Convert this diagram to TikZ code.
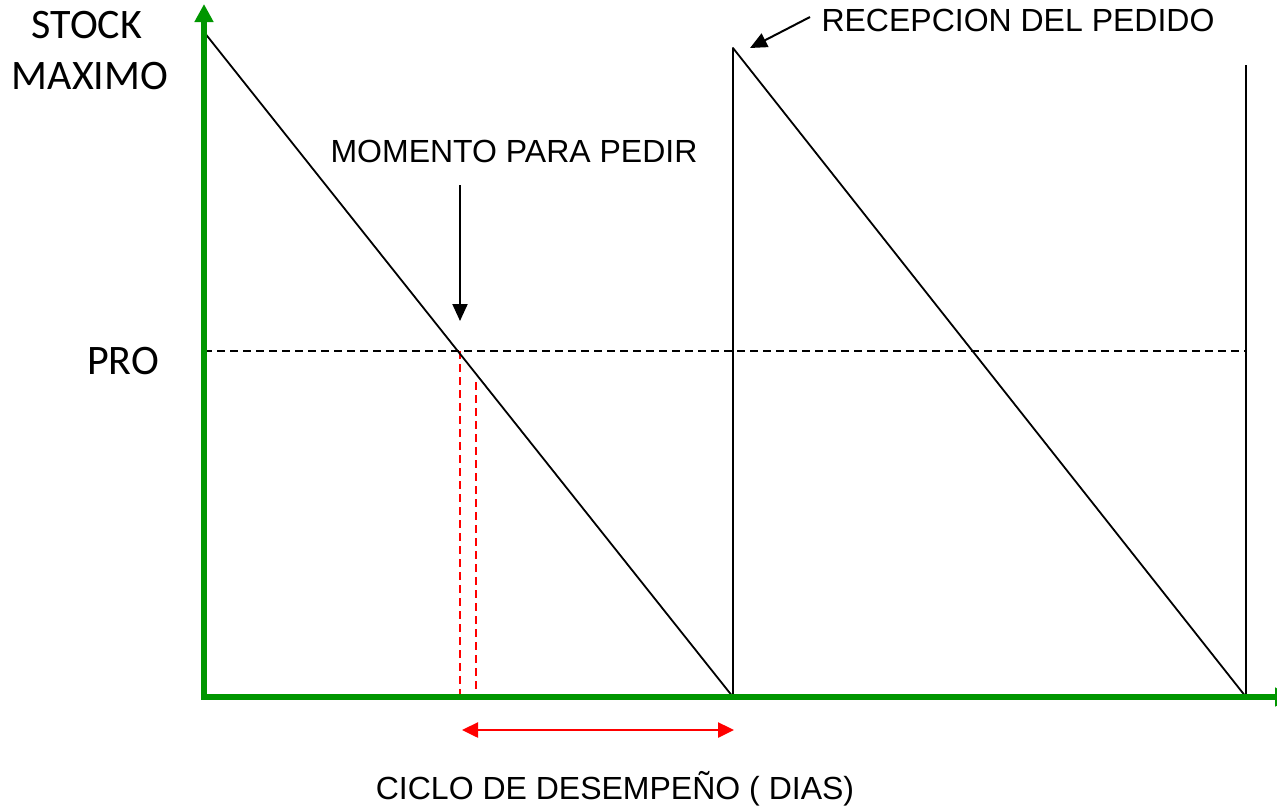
\documentclass[tikz,border=0pt]{standalone}
\usepackage{fontspec}
\setmainfont{Liberation Sans}
\newfontfamily\calib{Carlito}
\usetikzlibrary{arrows.meta}
\definecolor{axisgreen}{RGB}{0,150,0}
\begin{document}
\begin{tikzpicture}[x=1pt,y=-1pt,
  axis/.style={line width=6pt,draw=axisgreen,-{Triangle[length=18pt,width=18pt]}},
  stockline/.style={line width=1.8pt,black},
  prolevel/.style={line width=2.2pt,black,dash pattern=on 8pt off 5pt},
  reddash/.style={line width=2.2pt,red,dash pattern=on 8pt off 5pt},
  pointer/.style={line width=2pt,black,-{Triangle[length=17pt,width=15pt]}},
  redspan/.style={line width=2.5pt,red,{Triangle[length=16pt,width=15pt]}-{Triangle[length=16pt,width=15pt]}},
  armtext/.style={font=\fontsize{32}{36}\selectfont,inner sep=0pt},
  calibtext/.style={font=\calib\fontsize{42}{46}\selectfont,inner sep=0pt}]
\useasboundingbox (0,0) rectangle (1277,807);
% coordinates
\coordinate (O) at (204,697);
\coordinate (Ytop) at (204,4);
\coordinate (Xend) at (1293,697);
\coordinate (S1) at (204,32);
\coordinate (Z1) at (733,697);
\coordinate (T1) at (733,48);
\coordinate (Z2) at (1246,697);
\coordinate (T2) at (1246,65);
\coordinate (P0) at (204,351);
\coordinate (P1) at (1246,351);
\coordinate (R1a) at (460,351);
\coordinate (R1b) at (460,697);
\coordinate (R2a) at (476,382);
\coordinate (R2b) at (476,697);
\coordinate (Ma) at (460,185);
\coordinate (Mb) at (460,321);
\coordinate (Ra) at (810,17);
\coordinate (Rb) at (750,48);
\coordinate (Ca) at (462,730);
\coordinate (Cb) at (734,730);
% labels
\node[calibtext] (stock) at (87,25) {STOCK};
\node[calibtext] (maximo) at (90,76) {MAXIMO};
\node[calibtext] (pro) at (123,361) {PRO};
\node[armtext] (momento) at (514,151) {MOMENTO PARA PEDIR};
\node[armtext] (recep) at (1018,20) {RECEPCION DEL PEDIDO};
\node[armtext] (ciclo) at (615,789) {CICLO DE DESEMPEÑO ( DIAS)};
% dashed levels
\draw[prolevel] (P0) -- (P1);
\draw[reddash] (R1a) -- (R1b);
\draw[reddash] (R2a) -- (R2b);
% stock curve
\draw[stockline,line join=round] (S1) -- (Z1) -- (T1) -- (Z2) -- (T2);
% axes
\draw[axis] (O) -- (Ytop);
\draw[axis] ([xshift=-3pt]O) -- (Xend);
% pointers
\draw[pointer] (Ma) -- (Mb);
\draw[pointer] (Ra) -- (Rb);
\draw[redspan] (Ca) -- (Cb);
\end{tikzpicture}
\end{document}
